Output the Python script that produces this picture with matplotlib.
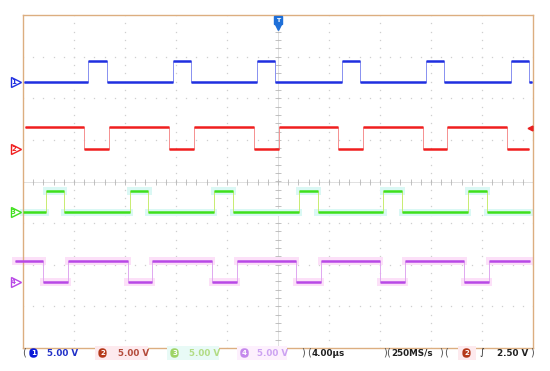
import matplotlib
matplotlib.use("Agg")
import matplotlib.pyplot as plt
from matplotlib.patches import Rectangle
import numpy as np

# ---------------- data (time in µs, 4 µs/div, 10 div) ----------------
ch_names = ["1", "2", "3", "4"]
ch_colors = ["#1f2fe0", "#f01e1e", "#3ee01c", "#b848e6"]
ch_edge_colors = ["#8890f0", "#f59090", "#c8ec70", "#e0a8f0"]
ch_glow = [None, None, "#daf8f4", "#fce0f8"]
volts_per_div = [5.0, 5.0, 5.0, 5.0]
ch_offsets = [2.38, 0.79, -0.74, -2.42]        # ground position, divisions
ch_high_v = [2.55, 2.60, 2.55, 2.55]            # high level, volts
ch_start_high = [False, True, False, True]

# edge times (µs), alternating starting with the first transition
ch1_edges = [5.12, 6.56, 11.74, 13.18, 18.38, 19.79, 25.00, 26.43, 31.61, 33.02, 38.25, 39.69]
ch2_edges = [4.81, 6.77, 11.47, 13.41, 18.12, 20.04, 24.73, 26.64, 31.35, 33.23, 37.94]
ch3_edges = [1.80, 3.24, 8.39, 9.83, 15.00, 16.45, 21.65, 23.11, 28.26, 29.73, 34.88, 36.37]
ch4_edges = [1.55, 3.51, 8.21, 10.14, 14.80, 16.76, 21.41, 23.35, 28.00, 29.96, 34.61, 36.57]
ch_edges = [ch1_edges, ch2_edges, ch3_edges, ch4_edges]
t_start = [0.08, 0.15, 0.0, -0.6]
t_end = [39.9, 39.7, 39.8, 39.8]

time_per_div = 4.0
n_div_x, n_div_y = 10, 8

status_labels = ["5.00 V", "5.00 V", "5.00 V", "5.00 V"]
timebase_label = "4.00µs"
rate_label = "250MS/s"
trig_source = "2"
trig_level_label = "2.50 V"
trig_level_v = 2.50

# ---------------- figure ----------------
W, H = 550, 371
fig = plt.figure(figsize=(W / 100, H / 100), dpi=100)
fig.patch.set_facecolor("white")
ax = fig.add_axes([23 / W, 23 / H, 510 / W, 333 / H])
xmax = n_div_x * time_per_div
ax.set_xlim(0, xmax)
ax.set_ylim(-n_div_y / 2, n_div_y / 2)
ax.set_xticks([]); ax.set_yticks([])
for s in ax.spines.values():
    s.set_color("#dcae80"); s.set_linewidth(1.0)

# graticule dots
gx = np.arange(1, n_div_x) * time_per_div
gy = np.arange(-n_div_y / 2 + 1, n_div_y / 2)
sub_x = np.arange(0, xmax + 1e-9, time_per_div / 5)
sub_y = np.arange(-4, 4 + 1e-9, 0.2)
for x in gx:
    ax.plot(np.full_like(sub_y, x), sub_y, ls="none", marker="s", ms=0.9,
            color="#cfcfcf", mew=0, zorder=1)
for y in gy:
    ax.plot(sub_x, np.full_like(sub_x, y), ls="none", marker="s", ms=0.9,
            color="#cfcfcf", mew=0, zorder=1)
# center cross ticks
cx = xmax / 2
ax.axhline(0, color="#d4d4d4", lw=0.5, zorder=1)
ax.axvline(cx, color="#d4d4d4", lw=0.5, zorder=1)
ax.plot(sub_x, np.zeros_like(sub_x), ls="none", marker="|", ms=4, mew=0.6,
        color="#b8b8b8", zorder=1)
ax.plot(np.full_like(sub_y, cx), sub_y, ls="none", marker="_", ms=4, mew=0.6,
        color="#b8b8b8", zorder=1)


def build(start_high, edges, t0, t1):
    lv = 1 if start_high else 0
    xs, ys = [t0], [lv]
    segs = []
    cur = t0
    for e in edges:
        segs.append((cur, e, lv))
        xs += [e, e]
        ys += [lv, 1 - lv]
        lv = 1 - lv
        cur = e
    segs.append((cur, t1, lv))
    xs.append(t1); ys.append(lv)
    return np.array(xs), np.array(ys), segs


for i in range(4):
    xs, ys, segs = build(ch_start_high[i], ch_edges[i], t_start[i], t_end[i])
    lo = ch_offsets[i]
    hi = ch_offsets[i] + ch_high_v[i] / volts_per_div[i]
    yv = lo + ys * (hi - lo)
    if ch_glow[i]:
        for (a, b, l) in segs:
            yy = lo + l * (hi - lo)
            ax.fill_between([a - 0.25, b + 0.25], yy - 0.09, yy + 0.09,
                            color=ch_glow[i], lw=0, zorder=2, clip_on=False)
    ax.plot(xs, yv, color=ch_edge_colors[i], lw=0.7, zorder=3, clip_on=False)
    for (a, b, l) in segs:
        yy = lo + l * (hi - lo)
        ax.plot([a, b], [yy, yy], color=ch_colors[i], lw=1.8, zorder=4,
                solid_capstyle="butt", clip_on=False)
    # ground marker on the left
    ax.plot([-0.55], [lo], marker=">", ms=6.5, mfc="white", mec=ch_colors[i],
            mew=1.0, clip_on=False, zorder=5)
    ax.text(-0.75, lo, ch_names[i], color=ch_colors[i], fontsize=5,
            ha="center", va="center", fontweight="bold", zorder=6)

# trigger position marker (top)
ax.plot([cx], [4 - 0.12], marker="s", ms=5.5, color="#1e6fd8", clip_on=False, zorder=6)
ax.plot([cx], [4 - 0.28], marker="v", ms=4, color="#1e6fd8", clip_on=False, zorder=6)
ax.text(cx, 4 - 0.14, "T", color="white", fontsize=4.5, ha="center",
        va="center", fontweight="bold", zorder=7)
# trigger level marker (right)
trig_idx = int(trig_source) - 1
ax.plot([xmax - 0.2], [ch_offsets[trig_idx] + trig_level_v / volts_per_div[trig_idx]],
        marker="<", ms=3.5, color="#e82020", clip_on=False, zorder=6)

# ---------------- status bar ----------------
ty = 1 - 353 / H
bar_badge = ["#0a1ad8", "#b5381a", "#9ed466", "#c488ec"]
bar_text = ["#2030c8", "#b34a3a", "#b2dc84", "#cca2f2"]
bar_bg = [None, "#fdeaee", "#e8faf6", "#fdf0fd"]
badge_x = [33.5, 102.5, 174.5, 244.5]
text_x = [47, 118, 189, 257]
fs = 6.3
for i in range(4):
    if bar_bg[i]:
        fig.patches.append(Rectangle(((badge_x[i] - 8) / W, 1 - 360 / H),
                                     (text_x[i] + 30 - badge_x[i] + 8) / W, 14 / H,
                                     transform=fig.transFigure, fc=bar_bg[i],
                                     ec="none", zorder=0))
    fig.text(badge_x[i] / W, ty, ch_names[i], color="white", fontsize=5,
             fontweight="bold", ha="center", va="center",
             bbox=dict(boxstyle="round,pad=0.25,rounding_size=0.6",
                       fc=bar_badge[i], ec="none"))
    fig.text(text_x[i] / W, ty, status_labels[i], color=bar_text[i],
             fontsize=fs, fontweight="bold", ha="left", va="center")

fig.patches.append(Rectangle((458 / W, 1 - 360 / H), 18 / W, 14 / H,
                             transform=fig.transFigure, fc="#fdeaee", ec="none", zorder=0))

br_col = "#505050"
for x, s in [(24, "("), (303, ")"), (309, "("), (385, ")"), (388.5, "("),
             (441.5, ")"), (446, "("), (532.5, ")")]:
    fig.text(x / W, ty + 0.002, s, color=br_col, fontsize=7, ha="center", va="center")
fig.text(312 / W, ty, timebase_label, color="#202020", fontsize=fs,
         fontweight="bold", ha="left", va="center")
fig.text(391 / W, ty, rate_label, color="#202020", fontsize=fs,
         fontweight="bold", ha="left", va="center")
fig.text(466.5 / W, ty, trig_source, color="white", fontsize=5, fontweight="bold",
         ha="center", va="center",
         bbox=dict(boxstyle="round,pad=0.25,rounding_size=0.6", fc="#b5381a", ec="none"))
fig.text(481.5 / W, ty, "\u222b", color="#202020", fontsize=6.5, ha="center", va="center")
fig.text(528 / W, ty, trig_level_label, color="#202020", fontsize=fs,
         fontweight="bold", ha="right", va="center")

fig.savefig("out.png", dpi=100, facecolor="white")
